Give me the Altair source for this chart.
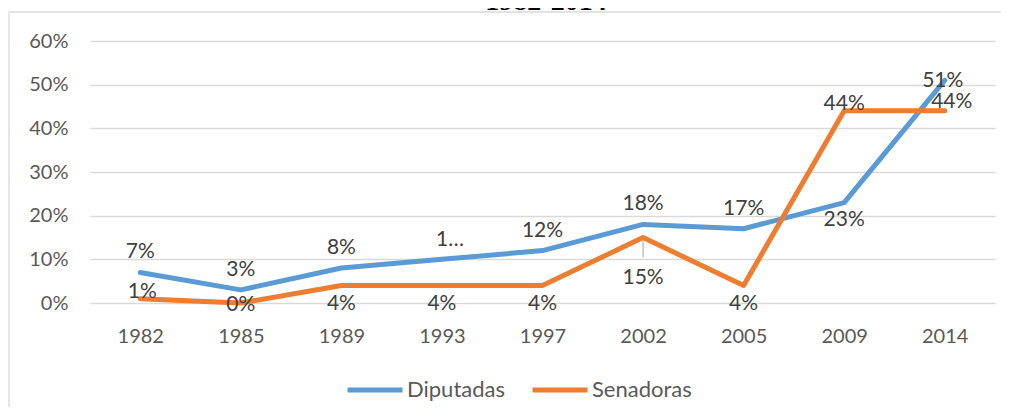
import altair as alt
import pandas as pd

years = ["1982", "1985", "1989", "1993", "1997", "2002", "2005", "2009", "2014"]
diputadas = [0.07, 0.03, 0.08, 0.10, 0.12, 0.18, 0.17, 0.23, 0.51]
senadoras = [0.01, 0.00, 0.04, 0.04, 0.04, 0.15, 0.04, 0.44, 0.44]
dip_labels = ["7%", "3%", "8%", "1…", "12%", "18%", "17%", "23%", "51%"]
sen_labels = ["1%", "0%", "4%", "4%", "4%", "15%", "4%", "44%", "44%"]
series_names = ["Diputadas", "Senadoras"]
series_colors = ["#5B9BD5", "#ED7D31"]
title_text = "1982-2014"
y_ticks = [0, 0.1, 0.2, 0.3, 0.4, 0.5, 0.6]

rows = []
for name, vals, labs in [(series_names[0], diputadas, dip_labels),
                         (series_names[1], senadoras, sen_labels)]:
    for yr, v, lab in zip(years, vals, labs):
        rows.append({"year": yr, "value": v, "series": name, "label": lab})
df = pd.DataFrame(rows)

FONT = "Lato"
base = alt.Chart(df)

x_enc = alt.X("year:O", sort=years, title=None,
              scale=alt.Scale(type="point", padding=0.5),
              axis=alt.Axis(labelAngle=0, ticks=False, domain=False, grid=False,
                            labelPadding=23, labelFont=FONT, labelFontSize=20,
                            labelColor="#595959"))
y_enc = alt.Y("value:Q", title=None,
              scale=alt.Scale(domain=[0, 0.6], nice=False),
              axis=alt.Axis(values=y_ticks, format=".0%", ticks=False, domain=False,
                            grid=True, gridColor="#d9d9d9", gridWidth=1.3,
                            labelPadding=22, labelFont=FONT, labelFontSize=20,
                            labelColor="#595959"))

lines = base.mark_line(strokeWidth=5, strokeCap="round", strokeJoin="round").encode(
    x=x_enc, y=y_enc,
    color=alt.Color("series:N", sort=series_names,
                    scale=alt.Scale(domain=series_names, range=series_colors),
                    legend=alt.Legend(orient="none", legendX=255, legendY=319,
                                      direction="horizontal", title=None,
                                      symbolType="stroke", symbolSize=3025,
                                      symbolStrokeWidth=5, labelFont=FONT,
                                      labelFontSize=22, labelColor="#595959",
                                      columnPadding=17, labelOffset=2, padding=0)),
    order=alt.Order("series:N"),
)


def labels(series, yrs, dx, dy):
    return (base.transform_filter(alt.FieldEqualPredicate(field="series", equal=series))
            .transform_filter(alt.FieldOneOfPredicate(field="year", oneOf=yrs))
            .mark_text(dx=dx, dy=dy, font=FONT, fontSize=21, color="#404040")
            .encode(x=alt.X("year:O", sort=years), y="value:Q", text="label:N"))


dip_l = [
    labels("Diputadas", ["1982", "1985", "1989", "1997", "2002", "2005"], 0, -20),
    labels("Diputadas", ["1993"], 8, -19),
    labels("Diputadas", ["2009"], 0, 17),
    labels("Diputadas", ["2014"], -2, 1),
]
sen_l = [
    labels("Senadoras", ["1982"], 2, -7),
    labels("Senadoras", ["1985"], 0, 2),
    labels("Senadoras", ["1989", "1993", "1997", "2005"], 0, 18),
    labels("Senadoras", ["2002"], 0, 40),
    labels("Senadoras", ["2009"], 0, -7),
    labels("Senadoras", ["2014"], 7, -9),
]

leader = (base.transform_filter(alt.FieldEqualPredicate(field="series", equal="Senadoras"))
          .transform_filter(alt.FieldOneOfPredicate(field="year", oneOf=["2002"]))
          .mark_rule(color="#a6a6a6", strokeWidth=1, yOffset=3, y2Offset=20)
          .encode(x=alt.X("year:O", sort=years), y="value:Q", y2="value:Q"))

one = alt.Data(values=[{"k": 1}])
border_top = alt.Chart(one).mark_rule(color="#d9d9d9", strokeWidth=1.3).encode(
    x=alt.value(-81), x2=alt.value(1000), y=alt.value(-29))
border_left = alt.Chart(one).mark_rule(color="#d9d9d9", strokeWidth=1.3).encode(
    x=alt.value(-81), y=alt.value(-29), y2=alt.value(500))
title = alt.Chart(one).mark_text(font="Liberation Serif", fontWeight="bold", fontSize=28,
                                 baseline="alphabetic", align="center", color="#000000").encode(
    x=alt.value(456), y=alt.value(-31), text=alt.value(title_text))

chart = alt.layer(border_top, border_left, title, lines, leader, *dip_l, *sen_l).properties(
    width=905, height=262,
    background="white",
    autosize=alt.AutoSizeParams(type="none"),
    padding={"left": 82, "top": 33, "right": 6, "bottom": 104},
).configure_view(stroke=None)

chart.save("out.html", embed_options={"renderer": "svg", "actions": False})
